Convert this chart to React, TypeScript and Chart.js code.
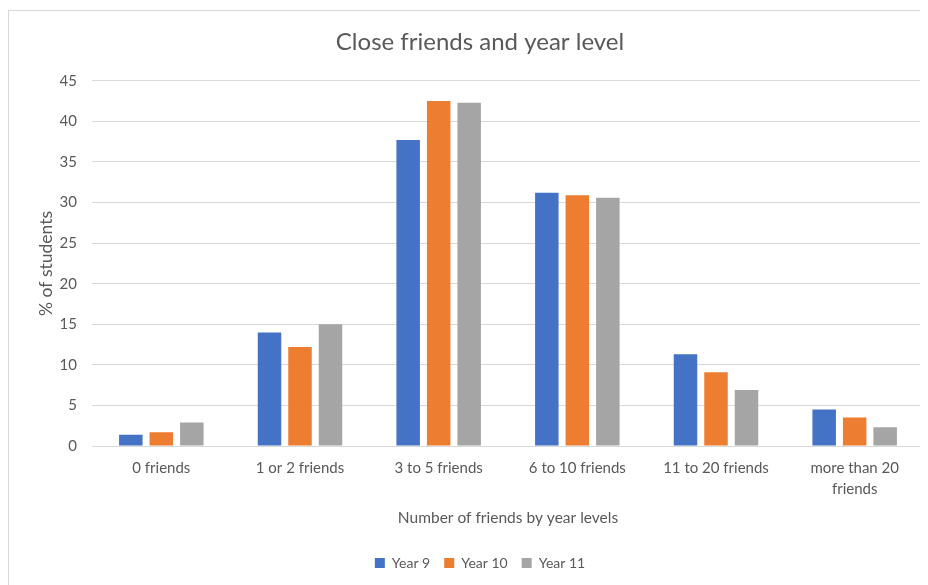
import React, { useEffect, useRef } from "react";
import { Chart, registerables } from "chart.js";

Chart.register(...registerables);

const categories: (string | string[])[] = [
  "0 friends",
  "1 or 2 friends",
  "3 to 5 friends",
  "6 to 10 friends",
  "11 to 20 friends",
  ["more than 20", "friends"],
];

const year9 = [1.4, 14.0, 37.7, 31.2, 11.3, 4.5];
const year10 = [1.7, 12.2, 42.5, 30.9, 9.1, 3.5];
const year11 = [2.9, 15.0, 42.3, 30.6, 6.9, 2.3];

const seriesNames = ["Year 9", "Year 10", "Year 11"];
const seriesColors = ["#4472C4", "#ED7D31", "#A5A5A5"];

const TEXT = "#595959";
const GRID = "#D9D9D9";
const FONT = "Lato, 'Liberation Sans', sans-serif";

export default function App() {
  const canvasRef = useRef<HTMLCanvasElement | null>(null);

  useEffect(() => {
    if (!canvasRef.current) return;
    const values = [year9, year10, year11];
    const chart = new Chart(canvasRef.current, {
      type: "bar",
      data: {
        labels: categories,
        datasets: values.map((v, i) => ({
          label: seriesNames[i],
          data: v,
          backgroundColor: seriesColors[i],
          borderWidth: 0,
          categoryPercentage: 0.66,
          barPercentage: 0.77,
        })),
      },
      options: {
        animation: false,
        responsive: false,
        maintainAspectRatio: false,
        layout: { padding: { left: 27, right: 4, top: 0, bottom: 5 } },
        plugins: {
          title: {
            display: true,
            text: "Close friends and year level",
            color: TEXT,
            font: { family: FONT, size: 24, weight: "normal" },
            padding: { top: 17, bottom: 24 },
          },
          legend: {
            position: "bottom",
            labels: {
              color: TEXT,
              font: { family: FONT, size: 14 },
              boxWidth: 10,
              boxHeight: 10,
              padding: 14,
            },
          },
          tooltip: { enabled: false },
        },
        scales: {
          x: {
            grid: { display: false, drawTicks: false },
            border: { display: true, color: GRID, width: 1 },
            ticks: {
              color: TEXT,
              font: { family: FONT, size: 15, lineHeight: 1.45 },
              padding: 11,
              maxRotation: 0,
              autoSkip: false,
            },
            title: {
              display: true,
              text: "Number of friends by year levels",
              color: TEXT,
              font: { family: FONT, size: 15.5 },
              padding: { top: 0, bottom: 15 },
            },
            afterFit: (scale: any) => {
              scale.height = 96;
            },
          },
          y: {
            min: 0,
            max: 45,
            ticks: {
              stepSize: 5,
              color: TEXT,
              font: { family: FONT, size: 15 },
              padding: 15,
            },
            grid: { color: GRID, lineWidth: 1, drawTicks: false },
            border: { display: false },
            title: {
              display: true,
              text: "% of students",
              color: TEXT,
              font: { family: FONT, size: 17.5 },
              padding: { top: 0, bottom: 0 },
            },
            afterFit: (scale: any) => {
              scale.width = 56;
            },
          },
        },
      },
    });
    return () => chart.destroy();
  }, []);

  return (
    <div
      style={{
        marginTop: 2,
        width: 920,
        height: 575,
        borderLeft: `1px solid ${GRID}`,
        borderTop: `1px solid ${GRID}`,
        background: "#fff",
        overflow: "hidden",
      }}
    >
      <canvas ref={canvasRef} width={919} height={574} style={{ display: "block" }} />
    </div>
  );
}
